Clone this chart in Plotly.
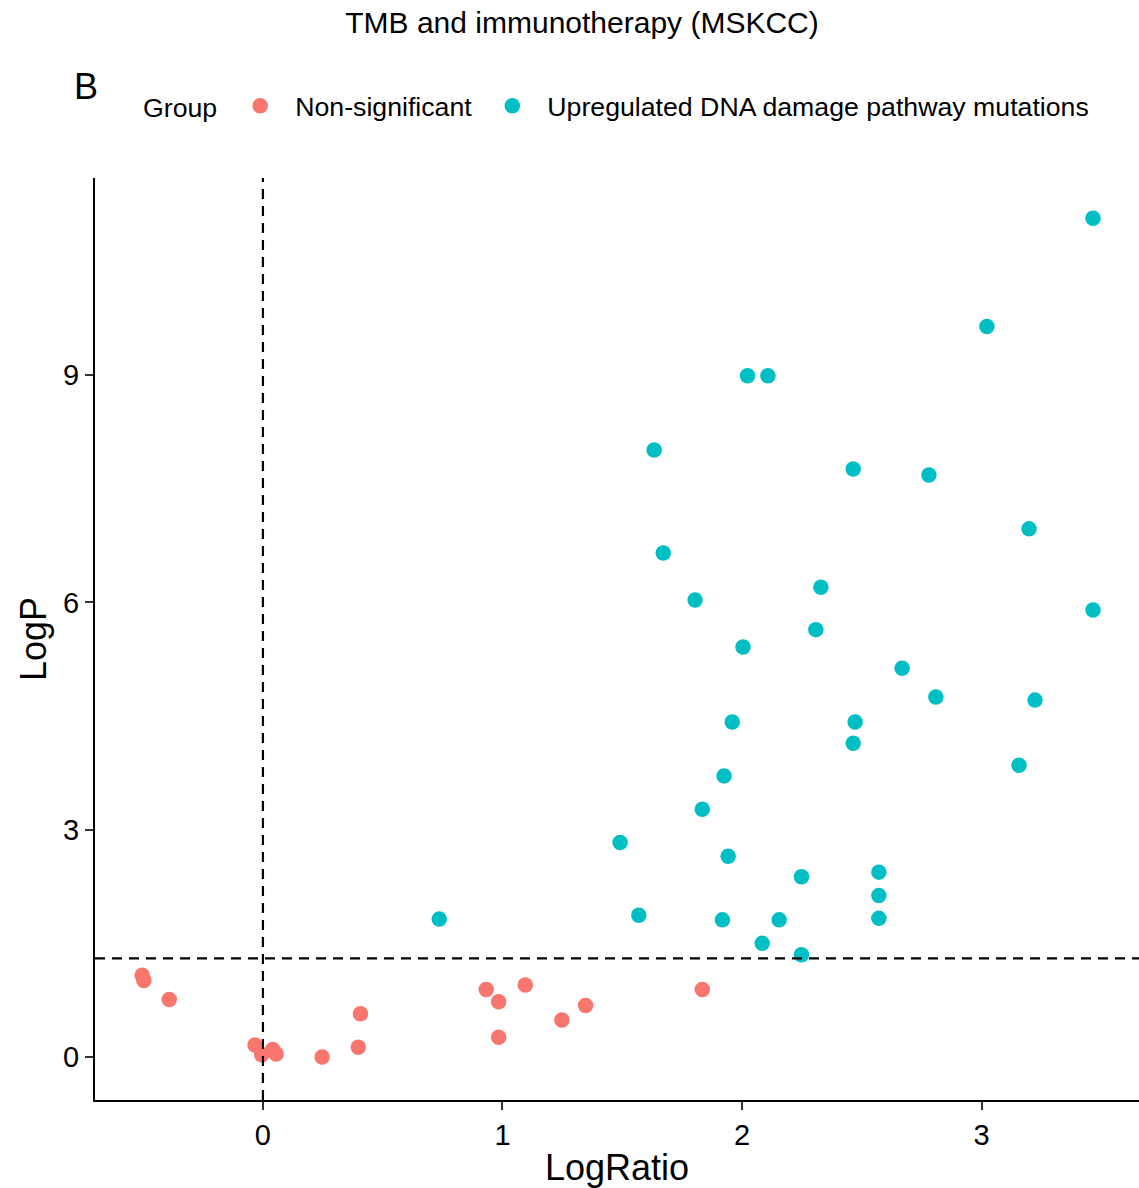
import plotly.graph_objects as go

# Non-significant group
ns_ratio = [-0.504, -0.497, -0.391, -0.033, -0.005, 0.041, 0.055, 0.247, 0.398, 0.407,
            0.932, 0.984, 1.095, 0.984, 1.248, 1.347, 1.834]
ns_logp = [1.08, 1.01, 0.76, 0.16, 0.03, 0.10, 0.04, 0.00, 0.13, 0.57,
           0.89, 0.73, 0.95, 0.26, 0.49, 0.68, 0.89]

# Upregulated DNA damage pathway mutations
up_ratio = [0.736, 1.491, 1.569, 1.834, 1.942, 1.918, 2.084, 2.155, 2.248, 2.248,
            2.571, 2.571, 2.571, 2.023, 2.108, 1.633, 2.464, 1.671, 1.804, 2.329,
            2.308, 1.925, 1.959, 2.004, 2.464, 2.472, 2.668, 2.780, 2.809, 3.022,
            3.156, 3.198, 3.223, 3.465, 3.465]
up_logp = [1.82, 2.83, 1.87, 3.27, 2.65, 1.81, 1.50, 1.81, 2.38, 1.35,
           2.44, 2.13, 1.83, 8.99, 8.99, 8.01, 7.76, 6.65, 6.03, 6.20,
           5.64, 3.71, 4.42, 5.41, 4.14, 4.42, 5.13, 7.68, 4.75, 9.64,
           3.85, 6.97, 4.71, 11.07, 5.90]

x_ticks = [0, 1, 2, 3]
y_ticks = [0, 3, 6, 9]
p_threshold = 1.30103  # -log10(0.05)

FONT = "Liberation Sans"
W, H = 1139, 1188
L, R, T, B = 95, 0, 178, 88
PW, PH = W - L - R, H - T - B

fig = go.Figure()
fig.add_trace(go.Scatter(x=ns_ratio, y=ns_logp, mode="markers", name="Non-significant",
                         marker=dict(color="#F8766D", size=15.5, line=dict(width=0))))
fig.add_trace(go.Scatter(x=up_ratio, y=up_logp, mode="markers",
                         name="Upregulated DNA damage pathway mutations",
                         marker=dict(color="#00BFC4", size=15.5, line=dict(width=0))))

fig.add_hline(y=p_threshold, line=dict(color="black", width=2.2, dash="10px,7px"))
fig.add_vline(x=0, line=dict(color="black", width=2.2, dash="10px,7px"))

fig.update_layout(
    width=W, height=H,
    paper_bgcolor="white", plot_bgcolor="white",
    margin=dict(l=L, r=R, t=T, b=B),
    font=dict(family=FONT, color="black"),
    title=dict(text="TMB and immunotherapy (MSKCC)", x=582 / W, xanchor="center",
               xref="container", y=1 - 22 / H, yanchor="middle", yref="container",
               font=dict(size=30, family=FONT, color="black")),
    legend=dict(orientation="h", x=(141 - L) / PW, xanchor="left",
                y=(H - B - 106) / PH, yanchor="middle",
                title=dict(text="Group", font=dict(size=26.7)),
                font=dict(size=26.7), itemsizing="trace", itemwidth=60,
                bgcolor="rgba(0,0,0,0)"),
    xaxis=dict(range=[-0.701, 3.657], tickvals=x_ticks, showgrid=False, zeroline=False,
               showline=True, linecolor="black", linewidth=2.2, ticks="outside", ticklen=8,
               tickwidth=2, tickcolor="#333333", tickfont=dict(size=29),
               title=dict(text="LogRatio", font=dict(size=36), standoff=10)),
    yaxis=dict(range=[-0.567, 11.6], tickvals=y_ticks, showgrid=False, zeroline=False,
               showline=True, linecolor="black", linewidth=2.2, ticks="outside", ticklen=8,
               tickwidth=2, tickcolor="#333333", tickfont=dict(size=29),
               title=dict(text="LogP", font=dict(size=36), standoff=5)),
    annotations=[dict(text="B", x=(86 - L) / PW, y=(H - B - 87) / PH,
                      xref="paper", yref="paper",
                      xanchor="center", yanchor="middle", showarrow=False,
                      font=dict(size=36, family=FONT, color="black"))],
)

fig.write_html("out.html", config={"displayModeBar": False},
               post_script="document.body.style.margin='0px';")
